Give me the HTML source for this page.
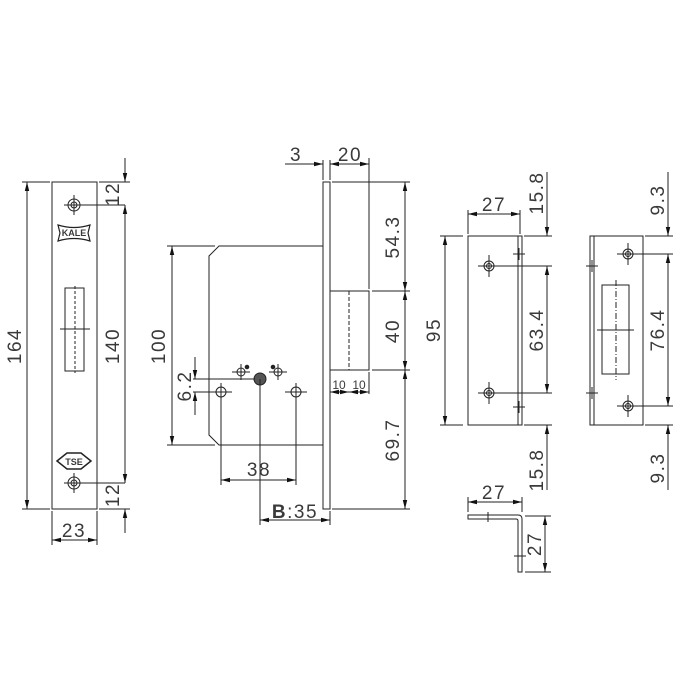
<!DOCTYPE html>
<html><head><meta charset="utf-8"><style>
html,body{margin:0;padding:0;background:#fff;}
svg{display:block}
text{font-family:"Liberation Sans",sans-serif;font-size:19px;fill:#3a3a3a;letter-spacing:1.5px;}
</style></head><body>
<svg width="700" height="700" viewBox="0 0 700 700" xmlns="http://www.w3.org/2000/svg">
<defs>
<marker id="a" markerWidth="10" markerHeight="6" refX="9" refY="3" orient="auto-start-reverse" markerUnits="userSpaceOnUse">
<path d="M0,0.8 L9,3 L0,5.2 Z" fill="#111"/></marker>
</defs>
<g stroke="#222" stroke-width="1" fill="none">
<rect x="52" y="182" width="45" height="327"/>
<rect x="65" y="288" width="19" height="83"/>
<line x1="75" y1="286" x2="75" y2="373" stroke-dasharray="3,2"/>
<line x1="60" y1="329" x2="90" y2="329"/>
<circle cx="74" cy="205" r="6"/><circle cx="74" cy="205" r="3"/>
<line x1="64" y1="205" x2="125" y2="205"/><line x1="74" y1="195" x2="74" y2="215"/>
<circle cx="74" cy="483" r="6"/><circle cx="74" cy="483" r="3"/>
<line x1="64" y1="483" x2="125" y2="483"/><line x1="74" y1="473" x2="74" y2="493"/>
<path d="M58,225 Q74,230 90,225 L88,233 L90,241 Q74,236 58,241 L60,233 Z" stroke-width="1.2"/>
<path d="M57,461 L67,453 L81,453 L91,461 L81,469 L67,469 Z" stroke-width="1.5"/>
<line x1="22" y1="182" x2="50" y2="182"/><line x1="22" y1="509" x2="50" y2="509"/>
<line x1="27" y1="182" x2="27" y2="509" marker-start="url(#a)" marker-end="url(#a)"/>
<line x1="99" y1="182" x2="130" y2="182"/><line x1="99" y1="509" x2="130" y2="509"/>
<line x1="125" y1="158" x2="125" y2="182" marker-end="url(#a)"/>
<line x1="125" y1="205" x2="125" y2="483" marker-start="url(#a)" marker-end="url(#a)"/>
<line x1="125" y1="533" x2="125" y2="509" marker-end="url(#a)"/>
<line x1="52" y1="511" x2="52" y2="545"/><line x1="97" y1="511" x2="97" y2="545"/>
<line x1="52" y1="540" x2="97" y2="540" marker-start="url(#a)" marker-end="url(#a)"/>

<rect x="323" y="182" width="7" height="327"/>
<path d="M323,246 L219,246 L209,256 L209,435 L219,445 L323,445"/>
<rect x="330" y="291" width="39" height="79"/>
<line x1="349" y1="291" x2="349" y2="370" stroke-dasharray="4,2"/>
<line x1="323" y1="160" x2="323" y2="180"/><line x1="330" y1="160" x2="330" y2="180"/>
<line x1="369" y1="158" x2="369" y2="289"/>
<line x1="285" y1="164" x2="323" y2="164" marker-end="url(#a)"/>
<line x1="330" y1="164" x2="369" y2="164" marker-start="url(#a)" marker-end="url(#a)"/>
<line x1="332" y1="182" x2="410" y2="182"/><line x1="372" y1="291" x2="410" y2="291"/>
<line x1="372" y1="370" x2="410" y2="370"/><line x1="332" y1="509" x2="410" y2="509"/>
<line x1="405" y1="182" x2="405" y2="291" marker-start="url(#a)" marker-end="url(#a)"/>
<line x1="405" y1="291" x2="405" y2="370" marker-start="url(#a)" marker-end="url(#a)"/>
<line x1="405" y1="370" x2="405" y2="509" marker-start="url(#a)" marker-end="url(#a)"/>
<line x1="369" y1="372" x2="369" y2="394"/>
<line x1="330" y1="392" x2="349" y2="392" marker-start="url(#a)" marker-end="url(#a)"/>
<line x1="349" y1="392" x2="369" y2="392" marker-start="url(#a)" marker-end="url(#a)"/>
<line x1="167" y1="246" x2="215" y2="246"/><line x1="167" y1="445" x2="215" y2="445"/>
<line x1="172" y1="246" x2="172" y2="445" marker-start="url(#a)" marker-end="url(#a)"/>
<circle cx="221" cy="392" r="5"/><line x1="210" y1="392" x2="232" y2="392"/><line x1="221" y1="383" x2="221" y2="485"/>
<circle cx="296" cy="392" r="5"/><line x1="285" y1="392" x2="307" y2="392"/><line x1="296" y1="383" x2="296" y2="485"/>
<circle cx="260" cy="379" r="6" fill="#555"/><line x1="260" y1="379" x2="260" y2="525"/>
<circle cx="241" cy="372" r="4"/><line x1="232" y1="372" x2="250" y2="372"/><line x1="241" y1="364" x2="241" y2="380"/>
<circle cx="278" cy="372" r="4"/><line x1="269" y1="372" x2="287" y2="372"/><line x1="278" y1="364" x2="278" y2="380"/>
<circle cx="247" cy="367" r="1.8" fill="#222"/><circle cx="273" cy="367" r="1.8" fill="#222"/>
<line x1="193" y1="379" x2="255" y2="379"/><line x1="193" y1="392" x2="212" y2="392"/>
<line x1="195" y1="357" x2="195" y2="379" marker-end="url(#a)"/>
<line x1="195" y1="415" x2="195" y2="392" marker-end="url(#a)"/>
<line x1="221" y1="480" x2="296" y2="480" marker-start="url(#a)" marker-end="url(#a)"/>
<line x1="330" y1="511" x2="330" y2="525"/>
<line x1="260" y1="520" x2="330" y2="520" marker-start="url(#a)" marker-end="url(#a)"/>

<rect x="468" y="236" width="54" height="189"/>
<line x1="518" y1="236" x2="518" y2="425"/>
<circle cx="489" cy="266" r="5"/><circle cx="489" cy="266" r="2.5"/>
<line x1="478" y1="266" x2="552" y2="266"/><line x1="489" y1="255" x2="489" y2="277"/>
<circle cx="489" cy="393" r="5"/><circle cx="489" cy="393" r="2.5"/>
<line x1="478" y1="393" x2="552" y2="393"/><line x1="489" y1="382" x2="489" y2="404"/>
<line x1="513" y1="254" x2="525" y2="254"/><line x1="519" y1="248" x2="519" y2="260"/>
<line x1="513" y1="407" x2="525" y2="407"/><line x1="519" y1="401" x2="519" y2="413"/>
<line x1="468" y1="210" x2="468" y2="234"/><line x1="520" y1="210" x2="520" y2="234"/>
<line x1="468" y1="214" x2="520" y2="214" marker-start="url(#a)" marker-end="url(#a)"/>
<line x1="440" y1="236" x2="463" y2="236"/><line x1="440" y1="425" x2="463" y2="425"/>
<line x1="445" y1="236" x2="445" y2="425" marker-start="url(#a)" marker-end="url(#a)"/>
<line x1="524" y1="236" x2="552" y2="236"/><line x1="524" y1="425" x2="552" y2="425"/>
<line x1="547" y1="172" x2="547" y2="236" marker-end="url(#a)"/>
<line x1="547" y1="266" x2="547" y2="393" marker-start="url(#a)" marker-end="url(#a)"/>
<line x1="547" y1="490" x2="547" y2="425" marker-end="url(#a)"/>

<rect x="590" y="236" width="53" height="189"/>
<line x1="594" y1="236" x2="594" y2="425"/>
<rect x="602" y="285" width="27" height="89"/>
<line x1="616" y1="280" x2="616" y2="380" stroke-dasharray="6,2,1,2"/>
<line x1="597" y1="330" x2="634" y2="330"/>
<circle cx="628" cy="254" r="5"/><circle cx="628" cy="254" r="2.5"/>
<line x1="617" y1="254" x2="673" y2="254"/><line x1="628" y1="243" x2="628" y2="265"/>
<circle cx="628" cy="406" r="5"/><circle cx="628" cy="406" r="2.5"/>
<line x1="617" y1="406" x2="673" y2="406"/><line x1="628" y1="395" x2="628" y2="417"/>
<line x1="586" y1="266" x2="598" y2="266"/><line x1="592" y1="260" x2="592" y2="272"/>
<line x1="586" y1="393" x2="598" y2="393"/><line x1="592" y1="387" x2="592" y2="399"/>
<line x1="645" y1="236" x2="673" y2="236"/><line x1="645" y1="425" x2="673" y2="425"/>
<line x1="668" y1="172" x2="668" y2="236" marker-end="url(#a)"/>
<line x1="668" y1="254" x2="668" y2="406" marker-start="url(#a)" marker-end="url(#a)"/>
<line x1="668" y1="490" x2="668" y2="425" marker-end="url(#a)"/>

<path d="M468,515 L518,515 Q522,515 522,519 L522,572 L518,572 L518,521 Q518,519 516,519 L468,519 Z"/>
<line x1="488" y1="512" x2="488" y2="522"/><line x1="514" y1="556" x2="526" y2="556"/>
<line x1="468" y1="497" x2="468" y2="512"/><line x1="522" y1="497" x2="522" y2="512"/>
<line x1="468" y1="502" x2="522" y2="502" marker-start="url(#a)" marker-end="url(#a)"/>
<line x1="525" y1="516" x2="551" y2="516"/><line x1="525" y1="572" x2="551" y2="572"/>
<line x1="545" y1="516" x2="545" y2="572" marker-start="url(#a)" marker-end="url(#a)"/>
</g>

<g>
<text transform="translate(21,346) rotate(-90)" text-anchor="middle">164</text>
<text transform="translate(119,346) rotate(-90)" text-anchor="middle">140</text>
<text transform="translate(119,194) rotate(-90)" text-anchor="middle">12</text>
<text transform="translate(119,495) rotate(-90)" text-anchor="middle">12</text>
<text x="74" y="537" text-anchor="middle">23</text>
<text x="74" y="236" text-anchor="middle" style="font-size:9px;font-weight:bold;letter-spacing:0">KALE</text>
<text x="74" y="465" text-anchor="middle" style="font-size:9px;font-weight:bold;letter-spacing:0">TSE</text>

<text x="296" y="161" text-anchor="middle">3</text>
<text x="350" y="161" text-anchor="middle">20</text>
<text transform="translate(399,237) rotate(-90)" text-anchor="middle">54.3</text>
<text transform="translate(399,331) rotate(-90)" text-anchor="middle">40</text>
<text transform="translate(399,440) rotate(-90)" text-anchor="middle">69.7</text>
<text x="339" y="389" text-anchor="middle" style="font-size:12px;letter-spacing:0">10</text>
<text x="359" y="389" text-anchor="middle" style="font-size:12px;letter-spacing:0">10</text>
<text transform="translate(165,346) rotate(-90)" text-anchor="middle">100</text>
<text transform="translate(191,386) rotate(-90)" text-anchor="middle">6.2</text>
<text x="259" y="476" text-anchor="middle">38</text>
<text x="295" y="518" text-anchor="middle"><tspan font-weight="bold">B</tspan>:35</text>

<text x="494" y="211" text-anchor="middle">27</text>
<text transform="translate(440,330) rotate(-90)" text-anchor="middle">95</text>
<text transform="translate(543,193) rotate(-90)" text-anchor="middle">15.8</text>
<text transform="translate(543,330) rotate(-90)" text-anchor="middle">63.4</text>
<text transform="translate(543,470) rotate(-90)" text-anchor="middle">15.8</text>
<text transform="translate(664,200) rotate(-90)" text-anchor="middle">9.3</text>
<text transform="translate(664,330) rotate(-90)" text-anchor="middle">76.4</text>
<text transform="translate(664,468) rotate(-90)" text-anchor="middle">9.3</text>
<text x="494" y="499" text-anchor="middle">27</text>
<text transform="translate(541,544) rotate(-90)" text-anchor="middle">27</text>
</g>
</svg>
</body></html>
